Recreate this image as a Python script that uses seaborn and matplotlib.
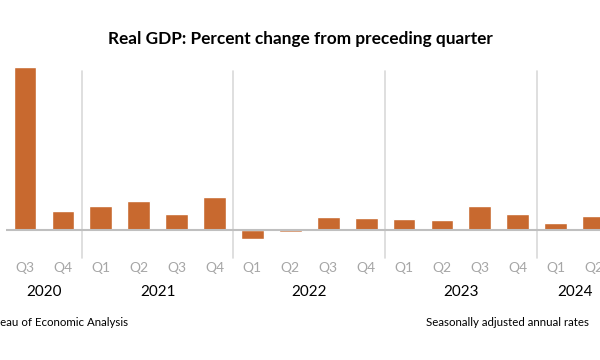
import pandas as pd
import matplotlib
matplotlib.use('Agg')
import matplotlib.pyplot as plt
import matplotlib.transforms as mtransforms
import seaborn as sns

# =========================
# DATA
# =========================

years = ['2020', '2020',
         '2021', '2021', '2021', '2021',
         '2022', '2022', '2022', '2022',
         '2023', '2023', '2023', '2023',
         '2024', '2024']
quarters = ['Q3', 'Q4',
            'Q1', 'Q2', 'Q3', 'Q4',
            'Q1', 'Q2', 'Q3', 'Q4',
            'Q1', 'Q2', 'Q3', 'Q4',
            'Q1', 'Q2']
gdp_change = [35.3, 4.2,
              5.3, 6.3, 3.4, 7.1,
              -2.0, -0.5, 2.8, 2.7,
              2.3, 2.2, 5.1, 3.5,
              1.5, 3.0]

title = 'Real GDP: Percent change from preceding quarter'
source_note = 'Source: U.S. Bureau of Economic Analysis'
rate_note = 'Seasonally adjusted annual rates'

df = pd.DataFrame({'year': years, 'quarter': quarters, 'value': gdp_change})
df['period'] = df['year'] + ' ' + df['quarter']

# =========================
# PLOT
# =========================

sns.set_style('white')
plt.rcParams['font.family'] = ['Lato', 'DejaVu Sans']

bar_color = '#C8692F'

fig = plt.figure(figsize=(6, 3.6), dpi=100)
ax = fig.add_axes([6.05 / 600, 116.2 / 360, (600 - 6.05) / 600, 179.8 / 360])

sns.barplot(data=df, x='period', y='value', order=list(df['period']),
            color=bar_color, saturation=1, width=0.6, ax=ax)

ax.set_xlim(-0.5, 15.17)
ax.set_ylim(-3, 36)
ax.axhline(0, color='#bfbfbf', lw=1.5, zorder=3)

for s in ax.spines.values():
    s.set_visible(False)
ax.set_xticks([])
ax.set_yticks([])
ax.set_xlabel('')
ax.set_ylabel('')

# quarter labels and year groups
trans = mtransforms.blended_transform_factory(ax.transData, fig.transFigure)
for i, q in enumerate(quarters):
    ax.text(i, 0.256, q, transform=trans, ha='center', va='center',
            fontsize=10, color='#a6a6a6')

year_order = list(dict.fromkeys(years))
start = 0
for y in year_order:
    n = years.count(y)
    center = start + (n - 1) / 2
    ax.text(center, 0.189, y, transform=trans, ha='center', va='center',
            fontsize=11, color='black')
    if start > 0:
        ax.plot([start - 0.5, start - 0.5], [-6.1, 34.5], color='#d9d9d9',
                lw=1.2, clip_on=False, zorder=0)
    start += n

fig.text(0.5, 0.892, title, ha='center', va='center',
         fontsize=12.4, fontweight='bold', color='black')
fig.text(128 / 600, 0.104, source_note, ha='right', va='center',
         fontsize=8.3, color='black')
fig.text(589 / 600, 0.104, rate_note, ha='right', va='center',
         fontsize=8.3, color='black')

fig.savefig('out.png', dpi=100)
